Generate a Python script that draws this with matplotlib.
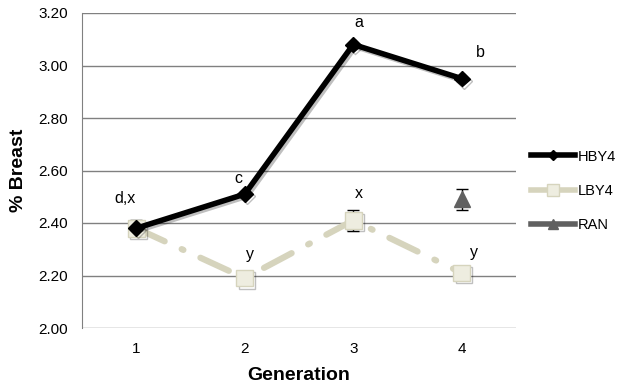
import matplotlib.pyplot as plt
import matplotlib.patheffects as pe
from matplotlib.lines import Line2D

# Data
generations = [1, 2, 3, 4]
hby4 = [2.38, 2.51, 3.08, 2.95]
lby4 = [2.38, 2.19, 2.41, 2.21]
lby4_err = [0.03, 0.0, 0.04, 0.0]
ran_gen = [4]
ran = [2.49]
ran_err = [0.04]

hby4_letters = ['d,x', 'c', 'a', 'b']
lby4_letters = ['', 'y', 'x', 'y']
y_ticks = [2.00, 2.20, 2.40, 2.60, 2.80, 3.00, 3.20]

# label offsets (pixels) relative to the points
hby4_off = [(-11, 30), (-6, 16), (6, 22), (19, 26)]
lby4_off = [(0, 0), (5, 24), (6, 27), (12, 20)]

FONT = 'Liberation Sans'

fig = plt.figure(figsize=(6.17, 3.92), dpi=100)
ax = fig.add_axes([82 / 617, 1 - 328 / 392, (516 - 82) / 617, (328 - 13) / 392])

for y in y_ticks:
    ax.axhline(y, color='#808080', linewidth=1.0, zorder=0)

shadow = [pe.SimpleLineShadow(offset=(1.5, -1.5), alpha=0.25, shadow_color='black'), pe.Normal()]

ax.errorbar(generations, lby4, yerr=lby4_err, fmt='none', ecolor='black',
            elinewidth=1, capsize=4, zorder=2)
ax.plot(generations, lby4, color='#d6d4bd', linewidth=4.5, dashes=(5, 3, 0.3, 3),
        dash_capstyle='round', zorder=3)
ax.plot(generations, lby4, linestyle='none', marker='s', markersize=12,
        markerfacecolor='#eeede0', markeredgecolor='#d6d4bd', markeredgewidth=1,
        zorder=3, path_effects=shadow)

ax.plot(generations, hby4, color='black', linewidth=4, marker='D', markersize=8,
        zorder=4, path_effects=shadow)

ax.errorbar(ran_gen, ran, yerr=ran_err, fmt='^', color='#606060', markersize=11,
            ecolor='black', elinewidth=1, capsize=4, zorder=4)

for g, v, t, off in zip(generations, hby4, hby4_letters, hby4_off):
    ax.annotate(t, (g, v), xytext=off, textcoords='offset pixels', fontsize=11.5,
                ha='center', va='center', family=FONT)
for g, v, t, off in zip(generations, lby4, lby4_letters, lby4_off):
    if t:
        ax.annotate(t, (g, v), xytext=off, textcoords='offset pixels', fontsize=11.5,
                    ha='center', va='center', family=FONT)

ax.set_xlim(0.5, 4.5)
ax.set_ylim(2.0, 3.2)
ax.set_xticks(generations)
ax.set_yticks(y_ticks)
ax.set_yticklabels([f'{v:.2f}' for v in y_ticks])
ax.tick_params(length=0, labelsize=11, pad=10)
for lab in ax.get_xticklabels() + ax.get_yticklabels():
    lab.set_family(FONT)
for s in ['top', 'right', 'bottom']:
    ax.spines[s].set_visible(False)
ax.spines['left'].set_color('#808080')

ax.set_xlabel('Generation', fontsize=14, fontweight='bold', family=FONT, labelpad=8)
ax.set_ylabel('% Breast', fontsize=14, fontweight='bold', family=FONT, labelpad=8)

# legend
handles = [
    Line2D([], [], color='black', linewidth=4, marker='D', markersize=5),
    Line2D([], [], color='#d6d4bd', linewidth=4, marker='s', markersize=8,
           markerfacecolor='#eeede0', markeredgecolor='#d6d4bd'),
    Line2D([], [], color='#606060', linewidth=4, marker='^', markersize=7),
]
fig.legend(handles, ['HBY4', 'LBY4', 'RAN'],
           loc='center left', bbox_to_anchor=(518 / 617, 1 - 191 / 392),
           frameon=False, handlelength=3.0, handletextpad=0.2, labelspacing=1.4,
           prop={'family': FONT, 'size': 10.5})

fig.savefig('out.png', dpi=100)
